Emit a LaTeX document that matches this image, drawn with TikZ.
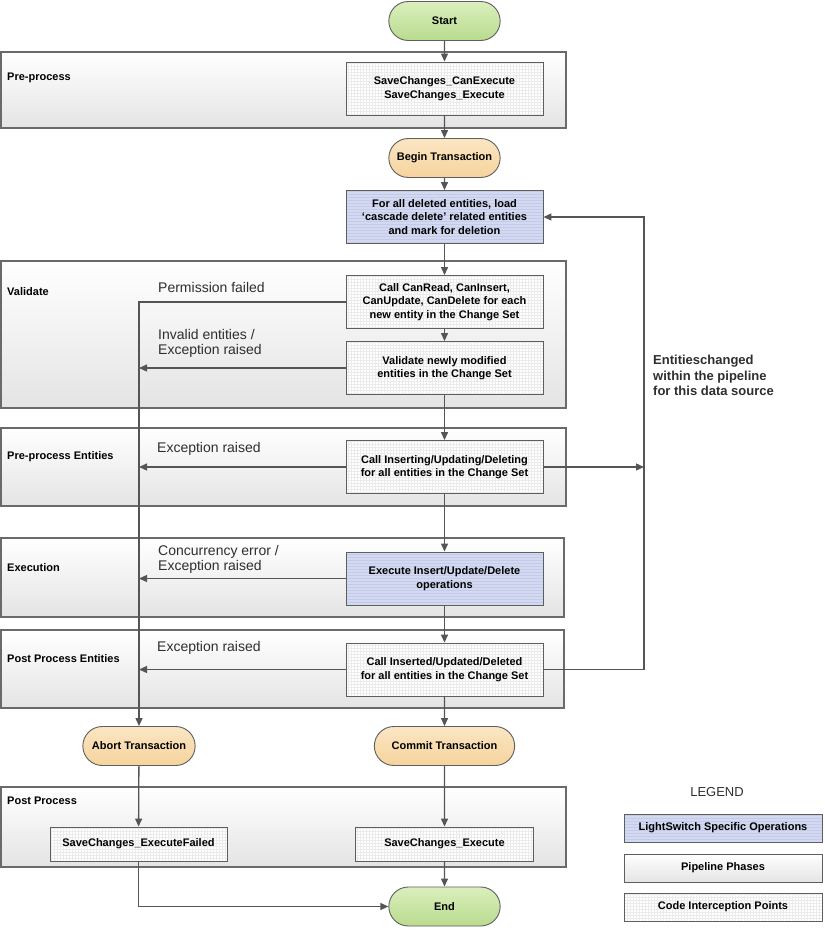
\documentclass[tikz,border=0pt]{standalone}
\usepackage{fontspec}
\setmainfont{Liberation Sans}
\usepackage{tikz}
\usetikzlibrary{arrows.meta,positioning,patterns,shapes.misc,calc}
\usepackage{xcolor}
\definecolor{linegray}{HTML}{555555}
\definecolor{framegray}{HTML}{6A6A6A}
\definecolor{boxgray}{HTML}{5E5E5E}
\definecolor{phasegray}{HTML}{E4E4E4}
\definecolor{lsblue}{HTML}{D2D9F0}
\definecolor{lsline}{HTML}{C3CBE8}
\definecolor{greenlight}{HTML}{DAEFBE}
\definecolor{startgreen}{HTML}{B9DB8E}
\definecolor{orangelight}{HTML}{FBE6C3}
\definecolor{txorange}{HTML}{F6D39C}
\definecolor{textgray}{HTML}{2E2E2E}

\begin{document}
\begin{tikzpicture}[
  x=1pt, y=-1pt,
  font=\fontsize{11}{13.5}\selectfont\bfseries,
  >={Triangle[length=8pt, width=7pt]},
  phase/.style={rectangle, draw=framegray, line width=1.3pt, top color=white,
                bottom color=phasegray, inner sep=0pt},
  phaselabel/.style={anchor=west, inner sep=0pt},
  opbox/.style={rectangle, draw=boxgray, line width=0.9pt, minimum width=197pt,
                minimum height=53pt, align=center, inner sep=2pt},
  codebox/.style={opbox, preaction={fill=white}, pattern=grid, pattern color=black!8},
  lsbox/.style={opbox, preaction={fill=lsblue}, pattern=horizontal lines, pattern color=lsline},
  terminal/.style={rounded rectangle, draw=boxgray, line width=0.9pt,
                   minimum width=118pt, minimum height=39pt},
  greenterm/.style={terminal, top color=greenlight, bottom color=startgreen},
  txterm/.style={terminal, top color=orangelight, bottom color=txorange},
  flow/.style={->, draw=linegray, line width=1.3pt},
  fail/.style={anchor=west, align=left, inner sep=0pt, text=textgray,
               font=\mdseries\fontsize{14}{15}\selectfont},
]
\useasboundingbox (0,0) rectangle (825,930);

% Pipeline phases
\node[phase, minimum width=565pt, minimum height=76pt] (pre) at (283.5,90) {};
\node[phase, minimum width=565pt, minimum height=147pt] (val) at (283.5,334.5) {};
\node[phase, minimum width=565pt, minimum height=78pt] (prent) at (283.5,467) {};
\node[phase, minimum width=563pt, minimum height=79pt] (exec) at (282.5,577.5) {};
\node[phase, minimum width=563pt, minimum height=78pt] (postent) at (282.5,669) {};
\node[phase, minimum width=565pt, minimum height=80pt] (post) at (283.5,827) {};

\node[phaselabel] (prelbl) at (7,78) {Pre-process};
\node[phaselabel] (vallbl) at (7,292) {Validate};
\node[phaselabel] (prentlbl) at (7,457) {Pre-process Entities};
\node[phaselabel] (execlbl) at (7,568) {Execution};
\node[phaselabel] (postentlbl) at (7,659) {Post Process Entities};
\node[phaselabel] (postlbl) at (7,801) {Post Process};

% Terminals and transactions
\node[greenterm] (start) at (444.5,21) {Start};
\node[txterm] (begin) at (444.5,158) {Begin Transaction};
\node[txterm, minimum width=119pt] (abort) at (139,746) {Abort Transaction};
\node[txterm, minimum width=147pt] (commit) at (444.5,746) {Commit Transaction};
\node[greenterm] (end) at (444.5,906.5) {End};

% Operations
\node[codebox] (canexec) at (444.5,88.5) {SaveChanges\_CanExecute\\SaveChanges\_Execute};
\node[lsbox] (cascade) at (444.5,217) {For all deleted entities, load\\`cascade delete' related entities\\and mark for deletion};
\node[codebox] (canread) at (444.5,302) {Call CanRead, CanInsert,\\CanUpdate, CanDelete for each\\new entity in the Change Set};
\node[codebox] (validate) at (444.5,368) {Validate newly modified\\entities in the Change Set};
\node[codebox] (inserting) at (444.5,467) {Call Inserting/Updating/Deleting\\for all entities in the Change Set};
\node[lsbox] (execute) at (444.5,578.5) {Execute Insert/Update/Delete\\operations};
\node[codebox] (inserted) at (444.5,669.5) {Call Inserted/Updated/Deleted\\for all entities in the Change Set};
\node[codebox, minimum width=177pt, minimum height=34pt] (failed) at (138.5,844) {SaveChanges\_ExecuteFailed};
\node[codebox, minimum width=178pt, minimum height=34pt] (saveexec) at (444.5,844) {SaveChanges\_Execute};

% Main flow
\draw[flow] (start) -- (canexec);
\draw[flow] (canexec) -- (begin);
\draw[flow] (begin) -- (cascade);
\draw[flow] (cascade) -- (canread);
\draw[flow] (canread) -- (validate);
\draw[flow] (validate) -- (inserting);
\draw[flow] (inserting) -- (execute);
\draw[flow] (execute) -- (inserted);
\draw[flow] (inserted) -- (commit);
\draw[flow] (commit) -- (saveexec);
\draw[flow] (saveexec) -- (end);
\draw[flow] (abort) -- (failed);
\draw[flow] (failed.south) |- (end.west);

% Failure paths
\draw[flow] (canread.west) -| (abort.north);
\draw[flow] (validate.west) -- (validate.west -| abort);
\draw[flow] (inserting.west) -- (inserting.west -| abort);
\draw[flow] (execute.west) -- (execute.west -| abort);
\draw[flow] (inserted.west) -- (inserted.west -| abort);

\node[fail] (permlbl) at (158,287) {Permission failed};
\node[fail] (invalidlbl) at (158,343.5) {Invalid entities /\\Exception raised};
\node[fail] (exc1lbl) at (157,449) {Exception raised};
\node[fail] (concurlbl) at (158,559.5) {Concurrency error /\\Exception raised};
\node[fail] (exc2lbl) at (157,648) {Exception raised};

% Loop back for changed entities
\coordinate (loopx) at (644,0);
\draw[flow] (inserting.east) -- (inserting.east -| loopx);
\draw[flow] (inserted.east) -| (loopx |- cascade.east) -- (cascade.east);
\node[anchor=west, align=left, inner sep=0pt, text=textgray,
      font=\bfseries\fontsize{13}{15.5}\selectfont] (looplbl) at (653,375.5)
  {Entitieschanged\\within the pipeline\\for this data source};

% Legend
\node[font=\mdseries\fontsize{13}{15}\selectfont, text=textgray] (legend) at (717,792) {LEGEND};
\node[lsbox, minimum width=198pt, minimum height=28pt] (leg1) at (723,828) {LightSwitch Specific Operations};
\node[phase, draw=boxgray, line width=0.9pt, minimum width=198pt, minimum height=28pt] (leg2) at (723,868) {Pipeline Phases};
\node[codebox, minimum width=198pt, minimum height=28pt] (leg3) at (723,907) {Code Interception Points};
\end{tikzpicture}
\end{document}
